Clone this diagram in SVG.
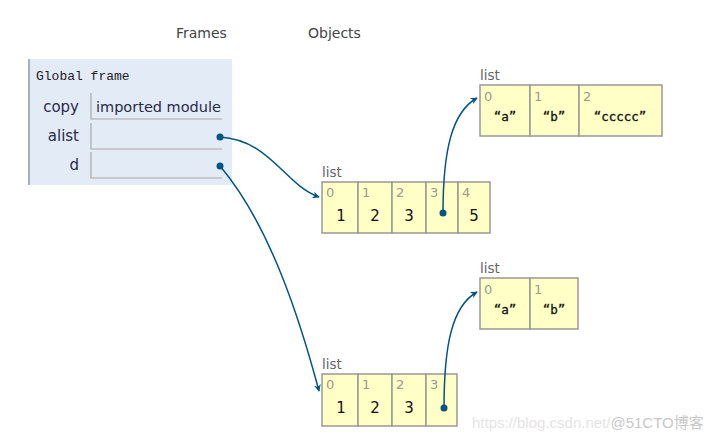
<svg xmlns="http://www.w3.org/2000/svg" width="725" height="440" viewBox="0 0 725 440">
<defs>
<style>
.hdr{font-family:"DejaVu Sans",Verdana,sans-serif;font-size:14px;fill:#444}
.gf{font-family:"Liberation Mono","Courier New",monospace;font-size:13px;fill:#222}
.var{font-family:"DejaVu Sans",Verdana,sans-serif;font-size:15px;fill:#2a2a4a;text-anchor:end}
.val{font-family:"DejaVu Sans",Verdana,sans-serif;font-size:14.5px;fill:#2a2a4a}
.vbox{fill:none;stroke:#aaa;stroke-width:1.2}
.tl{font-family:"DejaVu Sans",Verdana,sans-serif;font-size:13.5px;fill:#666}
.cell{fill:#ffffc6;stroke:#999;stroke-width:1.5}
.idx{font-family:"DejaVu Sans",Verdana,sans-serif;font-size:13px;fill:#999}
.num{font-family:"DejaVu Sans",Verdana,sans-serif;font-size:15px;fill:#111;text-anchor:middle}
.str{font-family:"DejaVu Sans Mono","Liberation Mono",monospace;font-size:12.5px;fill:#111;text-anchor:middle;stroke:#111;stroke-width:0.3}
.arr{fill:none;stroke:#005583;stroke-width:1.5;marker-end:url(#ah)}
.dot{fill:#005583}
.wm{font-family:"Liberation Sans",Arial,"Noto Sans CJK SC",sans-serif;font-size:15px}
</style>
<marker id="ah" viewBox="0 0 10 10" refX="9" refY="5" markerWidth="7" markerHeight="7" orient="auto" markerUnits="userSpaceOnUse">
<path d="M0,0 L10,5 L0,10 L3,5 Z" fill="#005583"/>
</marker>
</defs>
<rect width="725" height="440" fill="#fff"/>
<text class="hdr" x="176" y="38">Frames</text>
<text class="hdr" x="308" y="38">Objects</text>

<g id="global-frame">
<rect x="28" y="59" width="204" height="126" fill="#e2ebf6"/>
<line x1="29" y1="59" x2="29" y2="185" stroke="#a6b3b6" stroke-width="2"/>
<text class="gf" x="36" y="80">Global frame</text>
<text class="var" x="79" y="112">copy</text>
<path class="vbox" d="M91,93 V119 H222"/>
<text class="val" x="96" y="112">imported module</text>
<text class="var" x="79" y="141">alist</text>
<path class="vbox" d="M91,123 V149 H222"/>
<text class="var" x="79" y="170">d</text>
<path class="vbox" d="M91,152 V178 H222"/>
</g>

<g id="list1">
<text class="tl" x="322" y="177">list</text>
<rect class="cell" x="322" y="182" width="36" height="51"/>
<rect class="cell" x="358" y="182" width="34" height="51"/>
<rect class="cell" x="392" y="182" width="34" height="51"/>
<rect class="cell" x="426" y="182" width="32" height="51"/>
<rect class="cell" x="458" y="182" width="32" height="51"/>
<text class="idx" x="326" y="197">0</text><text class="num" x="341" y="221">1</text>
<text class="idx" x="362" y="197">1</text><text class="num" x="375" y="221">2</text>
<text class="idx" x="396" y="197">2</text><text class="num" x="409" y="221">3</text>
<text class="idx" x="430" y="197">3</text>
<text class="idx" x="462" y="197">4</text><text class="num" x="474" y="221">5</text>
</g>

<g id="list2">
<text class="tl" x="480" y="80">list</text>
<rect class="cell" x="480" y="85" width="50" height="51"/>
<rect class="cell" x="530" y="85" width="49" height="51"/>
<rect class="cell" x="579" y="85" width="83" height="51"/>
<text class="idx" x="484" y="101">0</text><text class="str" x="505" y="121">“a”</text>
<text class="idx" x="534" y="101">1</text><text class="str" x="554" y="121">“b”</text>
<text class="idx" x="583" y="101">2</text><text class="str" x="620" y="121">“ccccc”</text>
</g>

<g id="list3">
<text class="tl" x="480" y="273">list</text>
<rect class="cell" x="480" y="278" width="50" height="51"/>
<rect class="cell" x="530" y="278" width="48" height="51"/>
<text class="idx" x="484" y="294">0</text><text class="str" x="505" y="314">“a”</text>
<text class="idx" x="534" y="294">1</text><text class="str" x="554" y="314">“b”</text>
</g>

<g id="list4">
<text class="tl" x="322" y="369">list</text>
<rect class="cell" x="322" y="374" width="36" height="52"/>
<rect class="cell" x="358" y="374" width="34" height="52"/>
<rect class="cell" x="392" y="374" width="34" height="52"/>
<rect class="cell" x="426" y="374" width="31" height="52"/>
<text class="idx" x="326" y="389">0</text><text class="num" x="341" y="413">1</text>
<text class="idx" x="362" y="389">1</text><text class="num" x="375" y="413">2</text>
<text class="idx" x="396" y="389">2</text><text class="num" x="409" y="413">3</text>
<text class="idx" x="430" y="389">3</text>
</g>

<g id="connectors">
<path class="arr" d="M220,137 C270,140 285,185 319,197"/>
<path class="arr" d="M220,166 C270,225 300,320 319,391"/>
<path class="arr" d="M443,213 C443,150 452,112 477,98"/>
<path class="arr" d="M444,408 C444,345 452,306 477,292"/>
<circle class="dot" cx="220" cy="137" r="3.5"/>
<circle class="dot" cx="220" cy="166" r="3.5"/>
<circle class="dot" cx="443" cy="213" r="3.5"/>
<circle class="dot" cx="444" cy="408" r="3.5"/>
</g>

<text class="wm" x="472" y="428"><tspan fill="#e4e4e4">https://blog.csdn.net/</tspan><tspan fill="#c8c8c8">@51CTO博客</tspan></text>
</svg>
